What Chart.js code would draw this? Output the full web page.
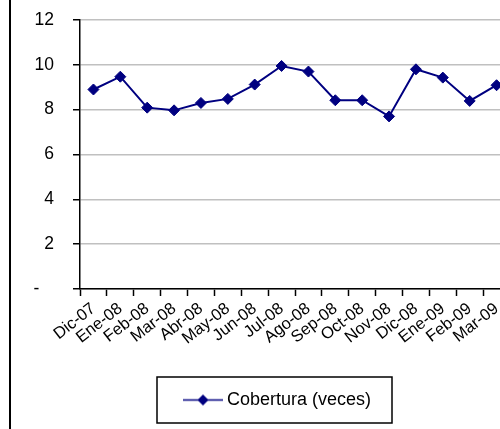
<!DOCTYPE html>
<html>
<head>
<meta charset="utf-8">
<script src="https://cdn.jsdelivr.net/npm/chart.js@4/dist/chart.umd.min.js"></script>
<style>
  body { margin: 0; background: #fff; }
  #wrap { position: relative; width: 500px; height: 429px; overflow: hidden; }
  #borde { position: absolute; left: 9px; top: 0; width: 2px; height: 429px; background: #000; }
  #grafico { position: absolute; left: 0; top: 0; }
</style>
</head>
<body>
<div id="wrap">
  <canvas id="grafico" width="534" height="429"></canvas>
  <div id="borde"></div>
</div>
<script>
// Datos del gráfico
const meses = ["Dic-07", "Ene-08", "Feb-08", "Mar-08", "Abr-08", "May-08", "Jun-08", "Jul-08",
  "Ago-08", "Sep-08", "Oct-08", "Nov-08", "Dic-08", "Ene-09", "Feb-09", "Mar-09"];
const cobertura = [8.9, 9.47, 8.09, 7.97, 8.3, 8.48, 9.12, 9.95,
  9.7, 8.42, 8.42, 7.7, 9.8, 9.43, 8.39, 9.09];
const serieNombre = "Cobertura (veces)";

const azul = "#000080";
const fuente = "'Liberation Sans', Arial, sans-serif";

// Icono de la leyenda: línea con rombo (desplazado 5px a la derecha)
const icono = document.createElement("canvas");
icono.width = 50;
icono.height = 13;
const ic = icono.getContext("2d");
ic.strokeStyle = azul;
ic.lineWidth = 1.5;
ic.beginPath();
ic.moveTo(10, 6.5);
ic.lineTo(50, 6.5);
ic.stroke();
ic.fillStyle = azul;
ic.beginPath();
ic.moveTo(30, 1);
ic.lineTo(35.5, 6.5);
ic.lineTo(30, 12);
ic.lineTo(24.5, 6.5);
ic.closePath();
ic.fill();

// Marco de la leyenda
const marcoLeyenda = {
  id: "marcoLeyenda",
  afterDraw(chart) {
    const lg = chart.legend;
    if (!lg || !lg.legendHitBoxes.length) return;
    const hb = lg.legendHitBoxes[0];
    const cx = (lg.left + lg.right) / 2;
    const cy = hb.top + hb.height / 2;
    const ctx = chart.ctx;
    ctx.save();
    ctx.strokeStyle = "#000";
    ctx.lineWidth = 1.5;
    ctx.strokeRect(Math.round(cx - 117.5), Math.round(cy - 23), 235, 46);
    ctx.restore();
  }
};

new Chart(document.getElementById("grafico"), {
  type: "line",
  data: {
    labels: meses,
    datasets: [{
      label: serieNombre,
      data: cobertura,
      borderColor: azul,
      backgroundColor: azul,
      borderWidth: 2,
      pointStyle: "rectRot",
      pointRadius: 5.5,
      pointHoverRadius: 5.5,
      pointBackgroundColor: azul,
      pointBorderColor: azul,
      pointBorderWidth: 1,
      tension: 0
    }]
  },
  options: {
    responsive: false,
    animation: false,
    devicePixelRatio: 1,
    layout: { padding: { left: 25, right: 10, top: 20, bottom: 10 } },
    plugins: {
      tooltip: { enabled: false },
      legend: {
        position: "bottom",
        labels: {
          usePointStyle: true,
          pointStyle: icono,
          pointStyleWidth: 40,
          boxHeight: 12,
          padding: 10,
          color: "#000",
          font: { family: fuente, size: 18 }
        }
      }
    },
    scales: {
      x: {
        offset: true,
        afterFit: (s) => { s.height = 92; s.paddingLeft = 0; s.paddingRight = 0; },
        grid: {
          offset: true,
          drawOnChartArea: false,
          drawTicks: true,
          tickLength: 7,
          tickColor: "#000",
          tickWidth: 1.5
        },
        border: { color: "#000", width: 1.5 },
        ticks: {
          autoSkip: false,
          maxRotation: 38,
          minRotation: 38,
          padding: 3,
          color: "#000",
          font: { family: fuente, size: 16.5 }
        }
      },
      y: {
        min: 0,
        max: 12,
        afterFit: (s) => { s.width = 55; s.paddingTop = 0; s.paddingBottom = 0; },
        grid: {
          color: "#c0c0c0",
          lineWidth: 1.5,
          tickLength: 7,
          tickColor: "#000",
          tickWidth: 1.5
        },
        border: { color: "#000", width: 1.5 },
        ticks: {
          stepSize: 2,
          padding: 19,
          color: "#000",
          font: { family: fuente, size: 17.5 },
          callback: (v) => (v === 0 ? "-   " : v)
        }
      },
      // eje vacío a la derecha, solo reserva espacio
      y2: {
        position: "right",
        afterFit: (s) => { s.width = 14; s.paddingTop = 0; s.paddingBottom = 0; },
        grid: { display: false },
        border: { display: false },
        ticks: { display: false }
      }
    }
  },
  plugins: [marcoLeyenda]
});
</script>
</body>
</html>
